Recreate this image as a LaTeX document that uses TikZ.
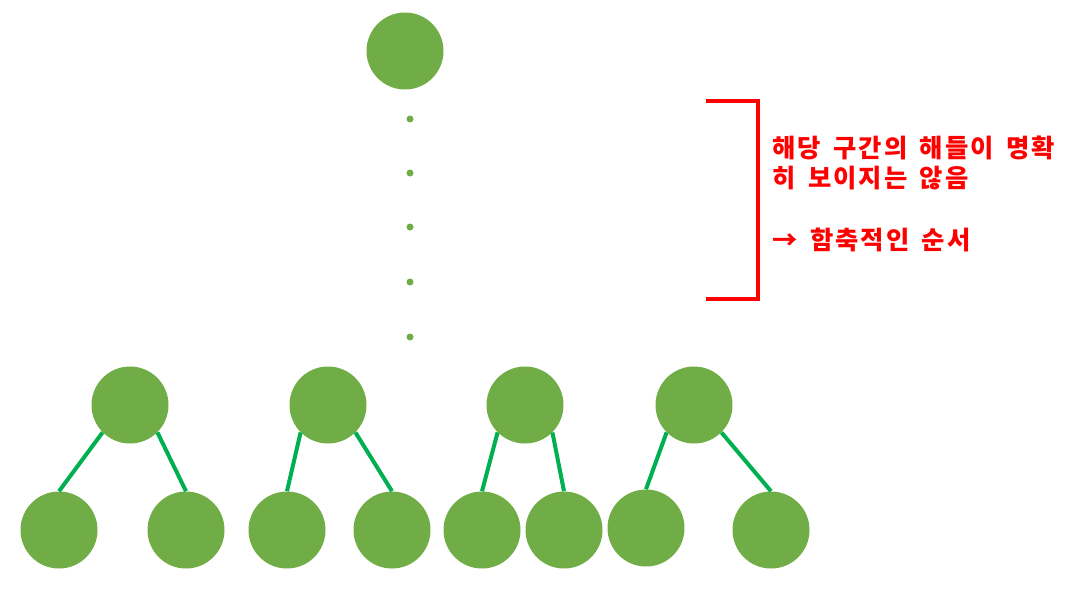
\documentclass[tikz,border=0pt]{standalone}
\usepackage{fontspec}
\usepackage{xcolor}
\usetikzlibrary{arrows.meta, calc, positioning}
\newfontfamily\krfont{Noto Sans CJK KR}[LetterSpace=8, WordSpace=1.6]
\definecolor{leafgreen}{RGB}{112,173,71}
\definecolor{edgegreen}{RGB}{0,176,80}
\definecolor{accentred}{RGB}{255,0,0}

\begin{document}
\begin{tikzpicture}[x=0.75pt, y=-0.75pt,
    solnode/.style={circle, fill=leafgreen, inner sep=0pt, minimum size=57.75pt},
    dotnode/.style={circle, fill=leafgreen, inner sep=0pt, minimum size=5.25pt},
    soledge/.style={edgegreen, line width=3pt},
    bracketline/.style={accentred, line width=3pt, miter limit=10},
    notetext/.style={accentred, anchor=base west, inner sep=0pt, font=\krfont\bfseries\fontsize{19pt}{21pt}\selectfont}]
    \useasboundingbox (0,0) rectangle (1066,589);

    % Root
    \node[solnode] (root) at (405,51) {};

    % Omitted levels
    \foreach \y [count=\i] in {119,173,227,282,337}
        \node[dotnode] (dot\i) at (410,\y) {};

    % Parents
    \node[solnode] (p1) at (130,405) {};
    \node[solnode] (p2) at (328,405) {};
    \node[solnode] (p3) at (525,405) {};
    \node[solnode] (p4) at (694,405) {};

    % Children
    \node[solnode] (c11) at (59,530) {};
    \node[solnode] (c12) at (186,530) {};
    \node[solnode] (c21) at (287,530) {};
    \node[solnode] (c22) at (392,530) {};
    \node[solnode] (c31) at (482,530) {};
    \node[solnode] (c32) at (564,530) {};
    \node[solnode] (c41) at (646,528) {};
    \node[solnode] (c42) at (771,530) {};

    % Edges
    \draw[soledge] (p1.south west) -- (c11.north);
    \draw[soledge] (p1.south east) -- (c12.north);
    \draw[soledge] (p2.south west) -- (c21.north);
    \draw[soledge] (p2.south east) -- (c22.north);
    \draw[soledge] (p3.south west) -- (c31.north);
    \draw[soledge] (p3.south east) -- (c32.north);
    \draw[soledge] (p4.south west) -- (c41.north);
    \draw[soledge] (p4.south east) -- (c42.north);

    % Bracket
    \coordinate (btop) at (706,101);
    \coordinate (bbot) at (706,299);
    \draw[bracketline] (btop) -- ++(52,0) |- (bbot);

    % Note
    \node[notetext] (line1) at (772,157) {해당 구간의 해들이 명확};
    \node[notetext] (line2) at (772,187) {히 보이지는 않음};
    \node[notetext] (line3) at (772,249) {→ 함축적인 순서};
\end{tikzpicture}
\end{document}
